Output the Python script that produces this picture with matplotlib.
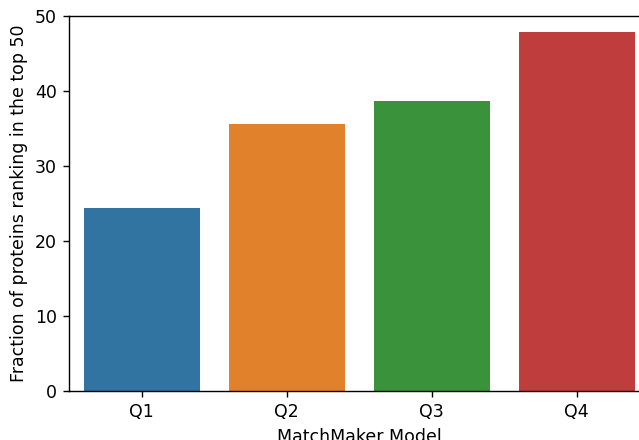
import matplotlib
matplotlib.use("Agg")
import matplotlib.pyplot as plt
import seaborn as sns

# Share of proteins in the top 50, per MatchMaker model
models = ["Q1", "Q2", "Q3", "Q4"]
top50_fraction = [24.4, 35.6, 38.7, 47.9]

DPI = 125
fig = plt.figure(figsize=(639 / DPI, 440 / DPI), dpi=DPI)
ax = fig.add_axes([69 / 639, 49 / 440, 580 / 639, 375 / 440])

sns.barplot(x=models, y=top50_fraction, hue=models, palette="tab10",
            legend=False, ax=ax)

ax.set_ylim(0, 50)
ax.set_xlabel("MatchMaker Model")
ax.set_ylabel("Fraction of proteins ranking in the top 50")

fig.savefig("out.png", dpi=DPI)
